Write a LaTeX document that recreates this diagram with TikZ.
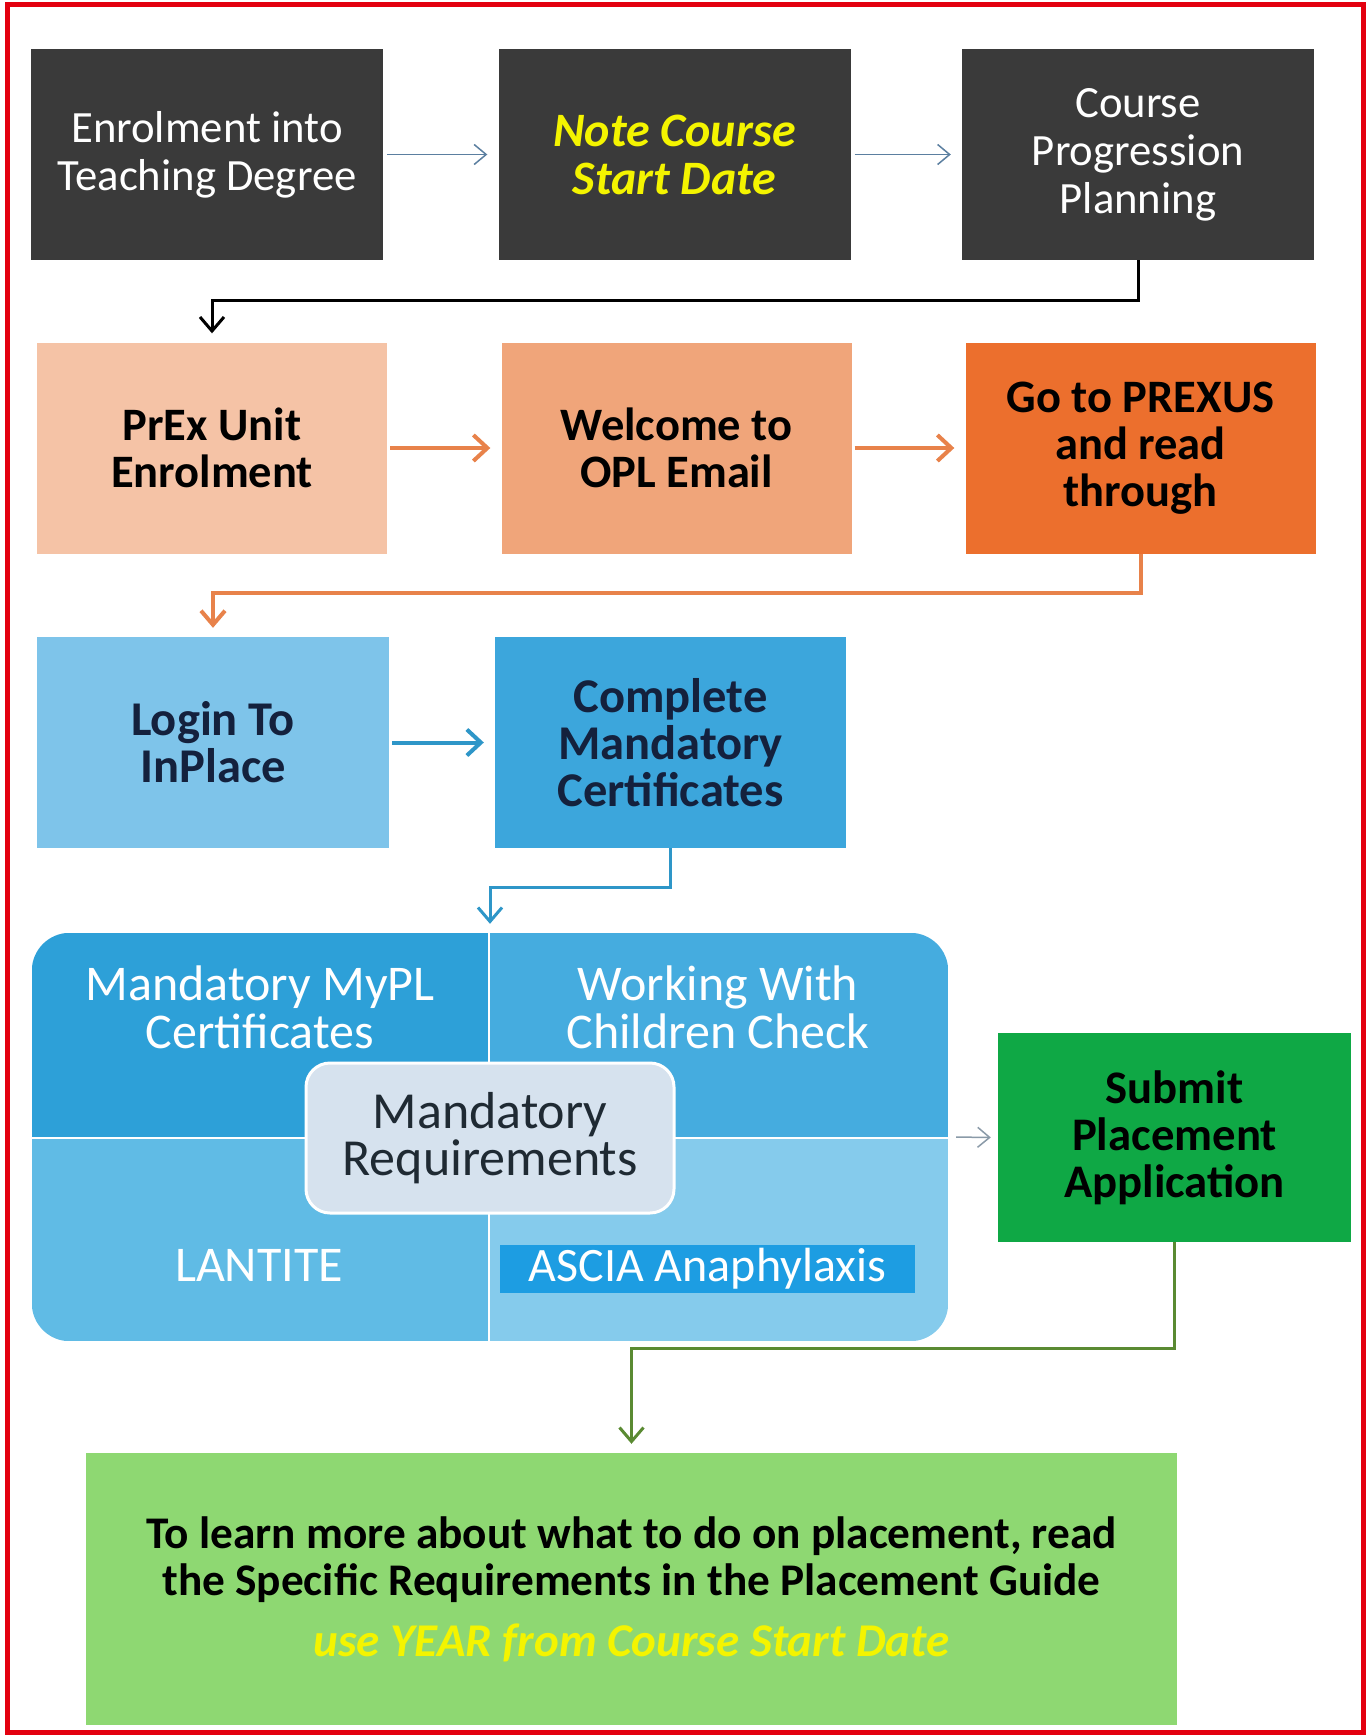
\documentclass[tikz,border=0pt]{standalone}
\usepackage{fontspec}
\setmainfont{Carlito}
\usetikzlibrary{positioning,arrows.meta}

\definecolor{framered}{HTML}{E3000F}
\definecolor{boxdark}{HTML}{3A3A3A}
\definecolor{noteyellow}{HTML}{F4F400}
\definecolor{thinblue}{HTML}{5B7FA0}
\definecolor{peachA}{HTML}{F5C3A6}
\definecolor{peachB}{HTML}{F0A57A}
\definecolor{peachC}{HTML}{EC6F2D}
\definecolor{orangeline}{HTML}{E8824A}
\definecolor{skyA}{HTML}{7EC4EA}
\definecolor{skyB}{HTML}{3CA6DC}
\definecolor{blueline}{HTML}{2E96C8}
\definecolor{navytext}{HTML}{14213D}
\definecolor{quadTL}{HTML}{2DA0D8}
\definecolor{quadTR}{HTML}{45ACDF}
\definecolor{quadBL}{HTML}{60BBE5}
\definecolor{quadBR}{HTML}{85CBEC}
\definecolor{reqfill}{HTML}{D6E2EE}
\definecolor{reqtext}{HTML}{1F2A33}
\definecolor{asciablue}{HTML}{1D9DE2}
\definecolor{greybar}{HTML}{8A9AA8}
\definecolor{submitgreen}{HTML}{0FA845}
\definecolor{greenline}{HTML}{5A8A32}
\definecolor{guidegreen}{HTML}{8ED872}

\tikzset{
  stepbox/.style={rectangle, inner sep=0pt, align=center,
    minimum width=352pt, minimum height=211pt},
  darkbox/.style={stepbox, fill=boxdark, text=white,
    font=\fontsize{44.7}{48}\selectfont},
  peachbox/.style={stepbox, minimum width=350pt, text=black,
    font=\bfseries\fontsize{46.5}{47}\selectfont},
  skybox/.style={stepbox, text=navytext,
    font=\bfseries\fontsize{48.5}{47}\selectfont},
  quadtext/.style={inner sep=0pt, align=center, text=white,
    font=\fontsize{50}{48}\selectfont},
  thinarrow/.style={thinblue, line width=1.5pt,
    -{Straight Barb[length=12pt,width=20pt]}, shorten <=4pt, shorten >=11pt},
  fatarrow/.style={line width=4pt,
    -{Straight Barb[length=14pt,width=26pt]}, shorten <=3pt, shorten >=11pt},
  elbow/.style={line width=3pt,
    -{Straight Barb[length=14pt,width=24pt]}, shorten >=9pt},
}

\begin{document}
\begin{tikzpicture}[x=1pt,y=-1pt]
  \useasboundingbox (0,0) rectangle (1369,1736);
  \fill[white] (0,0) rectangle (1369,1736);
  \draw[framered, line width=5pt] (7,5) rectangle (1363,1732);

  %Nodes
  \node[darkbox] at (207,154.5) (enrol) {Enrolment into\\Teaching Degree};
  \node[darkbox, text=noteyellow, font=\bfseries\itshape\fontsize{48}{48}\selectfont]
    at (674.5,154.5) (note) {Note Course\\Start Date};
  \node[darkbox] at (1138,154.5) (plan) {Course\\Progression\\Planning};

  \node[peachbox, fill=peachA] at (212,448) (prex) {PrEx Unit\\Enrolment};
  \node[peachbox, fill=peachB] at (676.5,448) (opl) {Welcome to\\OPL Email};
  \node[peachbox, fill=peachC] at (1140.5,448) (prexus) {Go to PREXUS\\and read\\through};

  \node[skybox, fill=skyA] at (213,742.5) (login) {Login To\\InPlace};
  \node[skybox, fill=skyB, minimum width=351pt] at (670.5,742.5) (cert)
    {Complete\\Mandatory\\Certificates};

  \node[rectangle, minimum width=916pt, minimum height=408pt] at (490,1137) (req) {};
  \begin{scope}
    \clip[rounded corners=38pt] (req.north west) rectangle (req.south east);
    \fill[quadTL] (req.north west) rectangle (489,1138);
    \fill[quadTR] (489,933) rectangle (948,1138);
    \fill[quadBL] (32,1138) rectangle (489,1341);
    \fill[quadBR] (489,1138) rectangle (req.south east);
  \end{scope}
  \draw[white, line width=2pt] (489,933) -- (489,1341);
  \draw[white, line width=2pt] (32,1138) -- (948,1138);

  \node[quadtext] at (260,1007) (mypl) {Mandatory MyPL\\Certificates};
  \node[quadtext] at (718,1007) (wwcc) {Working With\\Children Check};
  \node[quadtext] at (259,1265) (lantite) {LANTITE};
  \node[quadtext, fill=asciablue, minimum width=415pt, minimum height=48pt,
    font=\fontsize{48}{48}\selectfont] at (707.5,1269) (ascia) {ASCIA Anaphylaxis};
  \node[rectangle, rounded corners=24pt, fill=reqfill, draw=white, line width=3pt,
    minimum width=368pt, minimum height=150pt, align=center, text=reqtext,
    font=\fontsize{52}{47}\selectfont] at (490,1138) (mreq) {Mandatory\\Requirements};

  \node[stepbox, fill=submitgreen, minimum width=353pt, minimum height=209pt,
    text=black, font=\bfseries\fontsize{46.7}{47}\selectfont]
    at (1174.5,1137.5) (submit) {Submit\\Placement\\Application};

  \node[rectangle, fill=guidegreen, minimum width=1091pt, minimum height=272pt,
    inner sep=0pt, align=center, text=black, font=\bfseries\fontsize{45.3}{47}\selectfont]
    at (631.5,1589) (guide) {To learn more about what to do on placement, read\\
    the Specific Requirements in the Placement Guide\\[14pt]
    {\color{noteyellow}\itshape\fontsize{47}{47}\selectfont use YEAR from Course Start Date}};

  %Lines
  \draw[thinarrow] (enrol) -- (note);
  \draw[thinarrow] (note) -- (plan);
  \draw[elbow, black] (plan.south) -- ++(0,40) -| (prex.north);

  \draw[fatarrow, orangeline] (prex) -- (opl);
  \draw[fatarrow, orangeline] (opl) -- (prexus);
  \draw[elbow, orangeline, line width=4pt] (prexus.south) -- ++(0,39) -| (login.north);

  \draw[fatarrow, blueline] (login) -- (cert);
  \draw[elbow, blueline] (cert.south) -- ++(0,39) -| (req.north);

  \draw[thinarrow, greybar, shorten <=8pt, shorten >=7pt] (req.east) -- (submit.west);
  \draw[elbow, greenline] (submit.south) -- ++(0,106) -| (guide.north);
\end{tikzpicture}
\end{document}
